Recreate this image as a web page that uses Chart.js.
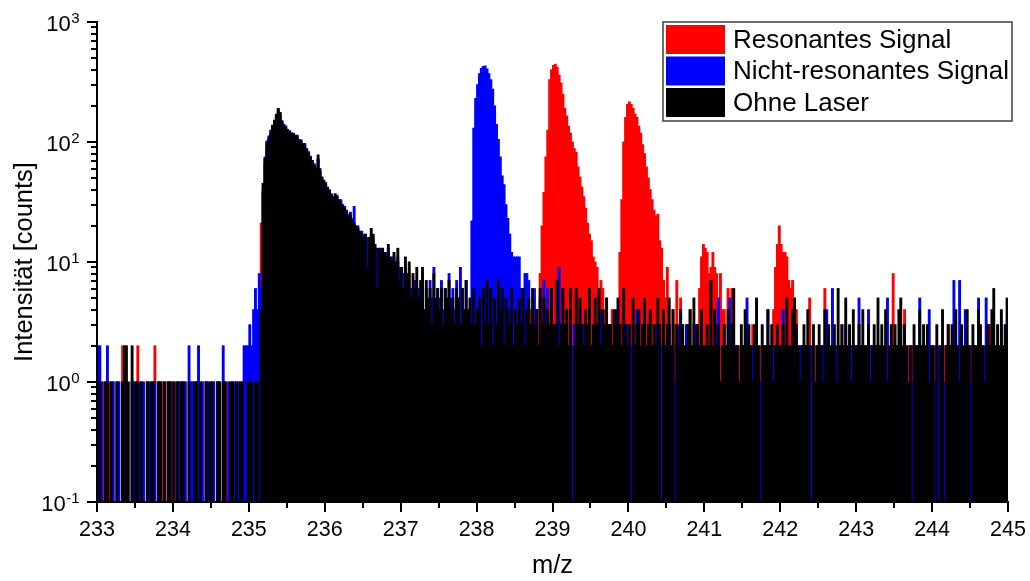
<!DOCTYPE html>
<html>
<head>
<meta charset="utf-8">
<script src="https://cdn.jsdelivr.net/npm/chart.js@4.4.1/dist/chart.umd.min.js"></script>
<style>
  html, body { margin: 0; padding: 0; background: #ffffff; }
  #wrap { width: 1030px; height: 581px; position: relative; }
</style>
</head>
<body>
<div id="wrap"><canvas id="spectrum"></canvas></div>
<script>
// ---- m/z binning --------------------------------------------------------
const MZ_START = 233;
const MZ_END = 245;
const BIN = 0.025;            // m/z per histogram bin
const BINS_PER_UNIT = 40;     // bins per 1 m/z

const seriesNames = ['Resonantes Signal', 'Nicht-resonantes Signal', 'Ohne Laser'];
const seriesColors = ['#ff0000', '#0000ff', '#000000'];
const xTickValues = [233, 234, 235, 236, 237, 238, 239, 240, 241, 242, 243, 244, 245];
const yTickExponents = [-1, 0, 1, 2, 3];

// ---- low-count background, one digit per bin, one string per m/z unit ----
const noiseResonant = [
  '0101001010 0102010010 1201001010 2010100101', // 233
  '0100101001 1010010100 0101001010 1001010011', // 234
  '1010100000 0000000000 0000000000 0000000000', // 235
  '0000000000 0000000000 0000000000 0000000000', // 236
  '0000032432 3242323423 2432323242 3242324232', // 237
  '3223423232 2423242321 3232632342 3240000000', // 238
  '0000000000 0000000000 0000000003 2423000000', // 239
  '0000000000 0000000000 9324372532 3242323000', // 240
  '0000000000 4261621221 2122132122 1221220000', // 241
  '0000000002 1221252122 2126221221 2231221221', // 242
  '2122121221 2212122128 1221241222 2121221212', // 243
  '1221212232 2122121221 2212212123 3122121221'  // 244
];
const noiseNonResonant = [
  '2210120110 1101010011 0110101101 1011010110', // 233
  '1011011021 1012010110 1101102101 0110101222', // 234
  '3246480000 0000000000 0000000000 0000000000', // 235
  '0000000000 0000000000 0000000000 0000000000', // 236
  '0000064756 5836475946 5746385647 5963740000', // 237
  '0000000000 0000000000 0000000003 6425374635', // 238
  '2329322312 2322423123 2231242232 3224231223', // 239
  '2232421322 3221321232 2322123422 3212232122', // 240
  '2122123512 1215212212 2152122121 2124212212', // 241
  '2412212321 2212212212 1221422612 2122312212', // 242
  '2512214221 2212215212 1223122121 2215212242', // 243
  '2122121221 2712721422 1221521252 2122123212'  // 244
];
const noiseNoLaser = [
  '0100110100 1001221020 1101001011 0011010110', // 233
  '1010110010 0110100101 1001101100 1101011001', // 234
  '1101100000 0000000000 0000000000 0000000000', // 235
  '0000000000 0000000000 0000000000 0000000000', // 236
  '0000058695 7947563856 4636574536 5364745363', // 237
  '4526373625 3746254362 4353624536 3426353436', // 238
  '3372363426 0263532436 2353624353 3243532632', // 239
  '3052342352 3423253042 3524032432 2342523242', // 240
  '2327242312 3242362213 2423213520 3224231232', // 241
  '2325224532 1232420312 3214232231 6232523142', // 242
  '2324223123 2523241232 3245232120 3224232312', // 243
  '2030240232 3242132242 0322432123 2462324235'  // 244
];

// ---- peak profiles (counts per bin, starting at the given m/z) -----------
// common m/z 235 background, 235.150 ... 237.100
const resonant235 = [21,38,66,90,100,110,128,140,160,178,165,140,130,124,120,115,112,110,108,104,99,96,92,88,83,77,70,66,60,58,70,55,48,45,
  42,40,37,34,33,34,33,31,29,28,26,25,23,23,21,20,19,18,17,16,15,15,14,14,16,15,13,12,12,11,12,11,10,12,10,9,10,9,11,6,
  8,5,9,7,8];
const nonResonant235 = [6,40,75,102,112,125,136,150,165,186,172,150,140,136,125,124,119,118,112,114,101,104,95,97,86,83,76,68,66,60,72,60,50,47,
  46,41,40,37,34,35,36,33,33,29,29,27,25,26,23,29,19,20,17,18,17,16,16,15,17,16,13,13,12,13,12,11,12,13,10,11,11,9,10,9,
  7,8,9,7,6];
const noLaser235 = [4,45,72,98,106,119,138,152,170,190,176,147,138,131,127,121,118,116,114,110,105,102,97,94,88,81,74,70,64,62,78,58,51,48,
  44,42,39,36,35,37,35,33,31,30,28,26,24,25,22,21,20,19,18,17,16,17,9,16,19,17,14,6,13,12,13,12,11,14,11,10,12,10,13,7,
  9,6,11,8,10];
// non-resonant peak, 237.900 ... 238.700
const nonResonant238 = [4,22,130,230,300,370,410,425,430,405,370,330,275,200,140,105,75,52,44,30,23,17,12,11,11,11,11,6,5,8,8,7,3];
// resonant peaks
const resonant239 = [8,20,38,75,125,330,400,435,445,420,360,310,250,190,165,135,118,100,88,82,62,51,42,35,28,21,17,15,11,10,9,6,7,6,4,5];
const resonant240 = [4,12,33,100,160,205,215,205,190,170,160,135,118,95,80,62,50,40,33,27,24,25,15,13,7,5];
const resonant241 = [6,11,14,13,12,8,9,12,9,8,5,8,4];
const resonant242 = [4,9,14,20,14,12,12,11,7,6,7,5,4];

const profilesResonant = [[235.150, resonant235], [238.825, resonant239], [239.850, resonant240], [240.925, resonant241], [241.900, resonant242]];
const profilesNonResonant = [[235.150, nonResonant235], [237.900, nonResonant238]];
const profilesNoLaser = [[235.150, noLaser235]];

// ---- assemble histogram points ----------------------------------------
function buildSeries(noise, profiles) {
  const digits = noise.map(s => s.replace(/\s+/g, ''));
  digits.forEach((s, k) => {
    if (s.length !== BINS_PER_UNIT) throw new Error('unit ' + (MZ_START + k) + ' has ' + s.length + ' bins');
  });
  const counts = digits.join('').split('').map(Number);
  profiles.forEach(([from, values]) => {
    const first = Math.round((from - MZ_START) / BIN);
    values.forEach((v, k) => { counts[first + k] = v; });
  });
  return counts.map((c, i) => ({ x: MZ_START + (i + 0.5) * BIN, y: c > 0 ? c : null }));
}

const seriesData = [
  buildSeries(noiseResonant, profilesResonant),
  buildSeries(noiseNonResonant, profilesNonResonant),
  buildSeries(noiseNoLaser, profilesNoLaser)
];

const FONT = '"Liberation Sans", Arial, Helvetica, sans-serif';

// tick marks (major + minor) and 10^n labels
const axisDecor = {
  id: 'axisDecor',
  afterDraw(chart) {
    const { ctx, chartArea, scales: { x, y } } = chart;
    ctx.save();
    ctx.strokeStyle = '#000';
    ctx.lineWidth = 2;
    // x axis: majors at integers, minors at halves
    for (let i = 0; i <= (MZ_END - MZ_START) * 2; i++) {
      const v = MZ_START + i * 0.5;
      const px = Math.round(x.getPixelForValue(v));
      const len = i % 2 === 0 ? 10 : 6;
      ctx.beginPath();
      ctx.moveTo(px, chartArea.bottom);
      ctx.lineTo(px, chartArea.bottom + len);
      ctx.stroke();
    }
    // y axis: decades with minor 2..9
    const e0 = yTickExponents[0], e1 = yTickExponents[yTickExponents.length - 1];
    for (let e = e0; e <= e1; e++) {
      const mMax = e === e1 ? 1 : 9;
      for (let m = 1; m <= mMax; m++) {
        const py = Math.round(y.getPixelForValue(m * Math.pow(10, e)));
        const len = m === 1 ? 10 : 6;
        ctx.beginPath();
        ctx.moveTo(chartArea.left, py);
        ctx.lineTo(chartArea.left - len, py);
        ctx.stroke();
      }
    }
    // y labels
    ctx.fillStyle = '#000';
    ctx.textBaseline = 'alphabetic';
    ctx.textAlign = 'left';
    const rightEdge = chartArea.left - 18;
    yTickExponents.forEach(e => {
      const py = y.getPixelForValue(Math.pow(10, e));
      const expText = String(e);
      ctx.font = '15px ' + FONT;
      const expW = ctx.measureText(expText).width;
      ctx.font = '22px ' + FONT;
      const baseW = ctx.measureText('10').width;
      const bx = rightEdge - expW - baseW;
      ctx.fillText('10', bx, py + 9);
      ctx.font = '15px ' + FONT;
      ctx.fillText(expText, bx + baseW + 0.5, py + 1);
    });
    ctx.restore();
  }
};

// boxed legend in the upper right of the plot
const legendBox = {
  id: 'legendBox',
  afterDraw(chart) {
    const { ctx, chartArea } = chart;
    const right = chartArea.right + 4;
    const left = right - 349;
    const top = chartArea.top;
    const h = 99;
    ctx.save();
    ctx.fillStyle = '#ffffff';
    ctx.fillRect(left, top, right - left, h);
    ctx.strokeStyle = '#404040';
    ctx.lineWidth = 1.5;
    ctx.strokeRect(left, top, right - left, h);
    ctx.font = '26px ' + FONT;
    ctx.textBaseline = 'middle';
    chart.data.datasets.forEach((ds, i) => {
      const ry = top + 3 + i * 31.5;
      ctx.fillStyle = ds.backgroundColor;
      ctx.fillRect(left + 3, ry, 59, 29);
      ctx.fillStyle = '#000';
      ctx.fillText(ds.label, left + 70, ry + 15.5);
    });
    ctx.restore();
  }
};

const datasets = seriesNames.map((name, i) => ({
  label: name,
  data: seriesData[i],
  backgroundColor: seriesColors[i],
  borderWidth: 0,
  grouped: false,
  barPercentage: 1,
  categoryPercentage: 1,
  inflateAmount: 0.5,
  order: seriesNames.length - i   // black drawn last, on top
}));

new Chart(document.getElementById('spectrum'), {
  type: 'bar',
  data: { datasets },
  options: {
    responsive: true,
    maintainAspectRatio: false,
    animation: false,
    events: [],
    layout: { padding: { top: 22, right: 22, left: 0, bottom: 0 } },
    plugins: { legend: { display: false }, tooltip: { enabled: false } },
    scales: {
      x: {
        type: 'linear',
        min: MZ_START,
        max: MZ_END,
        offset: false,
        grid: { display: false, drawTicks: false, offset: false },
        border: { display: true, color: '#000', width: 2, z: 1 },
        afterBuildTicks(scale) { scale.ticks = xTickValues.map(v => ({ value: v })); },
        ticks: {
          autoSkip: false, maxRotation: 0, color: '#000', padding: 15,
          font: { family: FONT, size: 21.5 },
          callback: v => String(v)
        },
        title: { display: true, text: 'm/z', color: '#000', font: { family: FONT, size: 25.5 }, padding: { top: 0, bottom: 0 } },
        afterFit(scale) { scale.height = 79; scale.paddingLeft = 0; scale.paddingRight = 0; }
      },
      y: {
        type: 'logarithmic',
        min: 0.1,
        max: 1000,
        grid: { display: false, drawTicks: false },
        border: { display: true, color: '#000', width: 2, z: 1 },
        ticks: { display: false },
        title: { display: true, text: 'Intensität [counts]', color: '#000', font: { family: FONT, size: 25.5 }, padding: { top: 10, bottom: 0 } },
        afterFit(scale) { scale.width = 97; scale.paddingTop = 0; scale.paddingBottom = 0; }
      }
    }
  },
  plugins: [axisDecor, legendBox]
});
</script>
</body>
</html>
